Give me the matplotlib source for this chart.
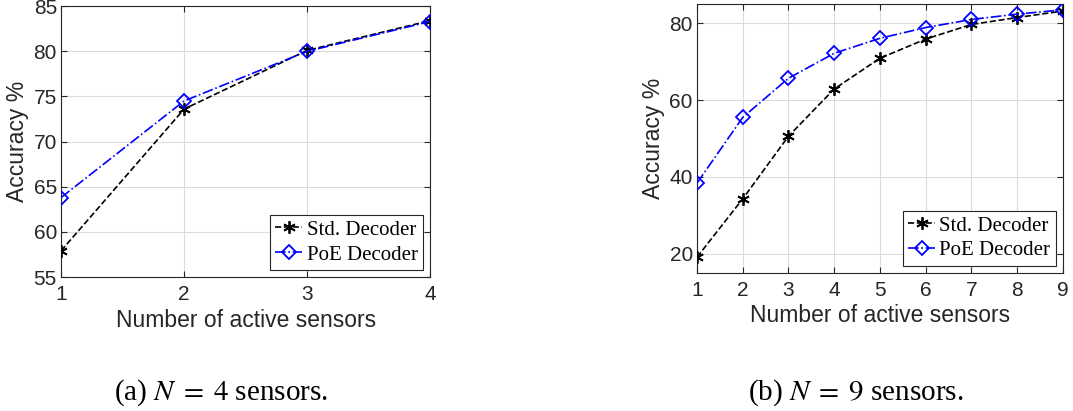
import matplotlib
matplotlib.use("Agg")
import matplotlib.pyplot as plt

# data
sensors_a = [1, 2, 3, 4]
std_a = [57.9, 73.6, 80.1, 83.4]
poe_a = [63.8, 74.5, 80.0, 83.3]

sensors_b = [1, 2, 3, 4, 5, 6, 7, 8, 9]
std_b = [19.1, 34.3, 50.6, 62.9, 70.9, 75.9, 79.7, 81.5, 83.2]
poe_b = [38.4, 55.5, 65.7, 72.2, 76.1, 78.9, 81.0, 82.4, 83.5]

yticks_a = [55, 60, 65, 70, 75, 80, 85]
yticks_b = [20, 40, 60, 80]

plt.rcParams['font.family'] = ['Liberation Sans', 'DejaVu Sans']
plt.rcParams['mathtext.fontset'] = 'stix'

text_col = '#262626'

fig = plt.figure(figsize=(10.73, 4.11), dpi=100)
ax1 = fig.add_axes([0.0569, 0.326, 0.344, 0.659])
ax2 = fig.add_axes([0.6496, 0.336, 0.341, 0.654])


def draw_panel(ax, x, std, poe, yticks, ylim):
    ax.plot(x, std, color='black', linestyle='--', marker=(6, 2, 0), markersize=9,
            markeredgewidth=1.3, linewidth=1.2, label='Std. Decoder', zorder=3)
    ax.plot(x, poe, color='blue', linestyle='-.', marker='D', markersize=7.5,
            markerfacecolor='none', markeredgewidth=1.3, linewidth=1.2,
            label='PoE Decoder', zorder=3)
    ax.set_xlim(x[0], x[-1])
    ax.set_ylim(ylim)
    ax.set_xticks(x)
    ax.set_yticks(yticks)
    ax.grid(True, color='#dcdcdc', linewidth=0.8)
    ax.set_axisbelow(True)
    ax.tick_params(direction='in', top=True, right=True, labelsize=15,
                   colors=text_col, length=4)
    ax.tick_params(axis='x', pad=6)
    ax.tick_params(axis='y', pad=3)
    for sp in ax.spines.values():
        sp.set_color(text_col)
        sp.set_linewidth(0.8)
    ax.set_xlabel('Number of active sensors', fontsize=16.5, color=text_col, labelpad=3)
    ax.set_ylabel('Accuracy %', fontsize=16.5, color=text_col, labelpad=3)
    leg = ax.legend(loc='lower right', prop={'family': 'Liberation Serif', 'size': 15},
                    fancybox=False, framealpha=1, edgecolor=text_col,
                    handlelength=1.3, handletextpad=0.2, borderpad=0.25,
                    labelspacing=0.25, borderaxespad=0.35)
    leg.get_frame().set_linewidth(0.8)


draw_panel(ax1, sensors_a, std_a, poe_a, yticks_a, (55, 85))
draw_panel(ax2, sensors_b, std_b, poe_b, yticks_b, (15, 85))

fig.text(0.206, 0.044, r'(a) $N\;=\;4$ sensors.', ha='center', va='center',
         fontsize=21, family='Liberation Serif')
fig.text(0.798, 0.044, r'(b) $N\;=\;9$ sensors.', ha='center', va='center',
         fontsize=21, family='Liberation Serif')

fig.savefig('out.png', dpi=100)
